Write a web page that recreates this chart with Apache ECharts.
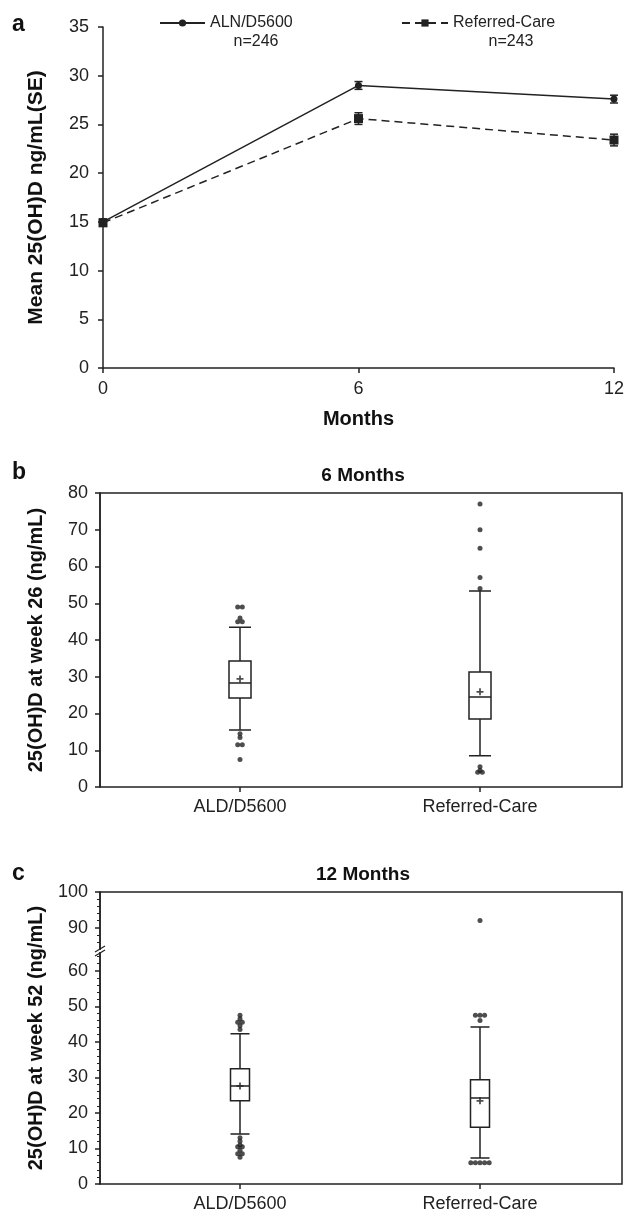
<!DOCTYPE html>
<html><head><meta charset="utf-8">
<script src="https://cdn.jsdelivr.net/npm/echarts@6/dist/echarts.min.js"></script>
<style>html,body{margin:0;padding:0;background:#fff}#c{width:627px;height:1219px}</style>
</head><body><div id="c"></div><script>
// ---- Panel a data ----
const months = [0, 6, 12];
const alnMean = [15.0, 29.0, 27.6];
const alnSE = [0.3, 0.4, 0.4];
const refMean = [14.9, 25.6, 23.4];
const refSE = [0.3, 0.6, 0.6];
const seriesNames = ['ALN/D5600', 'Referred-Care'];
const seriesN = ['n=246', 'n=243'];
// ---- Panels b, c data ----
const groups = ['ALD/D5600', 'Referred-Care'];
// [low whisker, Q1, median, Q3, high whisker]
const box26 = [[15.5, 24.2, 28.3, 34.3, 43.5], [8.5, 18.5, 24.5, 31.3, 53.3]];
const mean26 = [29.4, 25.9];
const out26 = [[49, 49, 46, 45, 45, 14.5, 13.5, 11.5, 11.5, 7.5], [77, 70, 65, 57, 54, 5.5, 4.5, 4, 4]];
const box52 = [[14.1, 23.4, 27.6, 32.4, 42.3], [7.3, 16, 24.2, 29.3, 44.2]];
const mean52 = [27.6, 23.4];
const out52 = [[47.5, 46.5, 45.5, 45.5, 44.5, 43.5, 13, 12, 11, 10.5, 10.5, 9.5, 8.5, 8.5, 7.5], [92, 47.5, 47.5, 47.5, 46, 6, 6, 6, 6, 6]];
const yTicksA = [0, 35, 5];
const yTicksB = [0, 80, 10];
// panel c: broken axis, lower segment and upper segment
const cLower = [0, 65];
const cUpper = [84, 100];
const cLowerTicks = [0, 10, 20, 30, 40, 50, 60];
const cUpperTicks = [90, 100];

const INK = '#222';
const FONT = '"Liberation Sans", Arial, sans-serif';

function minorBetween(lo, hi, step, major) {
  const r = [];
  for (let v = Math.ceil(lo / step) * step; v <= hi; v += step) if (major.indexOf(v) < 0 && v !== lo && v !== hi) r.push(v);
  return r;
}

function outlierData(out, keep) {
  const res = [];
  out.forEach((vals, ci) => {
    const counts = {};
    vals.forEach(v => counts[v] = (counts[v] || 0) + 1);
    const seen = {};
    vals.forEach(v => {
      const k = counts[v];
      const i = seen[v] = (seen[v] === undefined ? 0 : seen[v] + 1);
      if (!keep || keep(v)) res.push({ value: [ci, v], symbolOffset: [(i - (k - 1) / 2) * 4.6, 0] });
    });
  });
  return res;
}

const chart = echarts.init(document.getElementById('c'), null, { renderer: 'canvas' });

const axisLine = { show: true, lineStyle: { color: INK, width: 1.5 } };
const tickOut = { show: true, inside: false, length: 5, lineStyle: { color: INK, width: 1.5 } };
const lbl = { color: '#222', fontSize: 18, fontFamily: FONT };
const nameSt = { color: '#111', fontSize: 20, fontWeight: 'bold', fontFamily: FONT };
const titleSt = { fontSize: 19, fontWeight: 'bold', color: '#111', fontFamily: FONT };
const smallSt = { fontSize: 16, fontWeight: 'normal', color: '#222', fontFamily: FONT };
const hiddenAxis = { axisLine: { show: false }, axisTick: { show: false }, axisLabel: { show: false }, splitLine: { show: false } };

const plusPath = 'path://M3,0h2v3h3v2h-3v3h-2v-3h-3v-2h3z';

function errRender(params, api) {
  const x = api.value(0), m = api.value(1), s = api.value(2);
  const lo = api.coord([x, m - s]), hi = api.coord([x, m + s]);
  const w = 4;
  const st = { stroke: INK, lineWidth: 1.5 };
  return { type: 'group', children: [
    { type: 'line', shape: { x1: lo[0], y1: lo[1], x2: hi[0], y2: hi[1] }, style: st },
    { type: 'line', shape: { x1: lo[0] - w, y1: lo[1], x2: lo[0] + w, y2: lo[1] }, style: st },
    { type: 'line', shape: { x1: hi[0] - w, y1: hi[1], x2: hi[0] + w, y2: hi[1] }, style: st }
  ]};
}

function legendFor(i, left, w) {
  return {
    data: [seriesNames[i]], left: left, top: 10, itemWidth: w, itemHeight: 9,
    selectedMode: false,
    textStyle: { color: '#222', fontSize: 16, fontFamily: FONT }
  };
}

const boxStyle = { color: '#fff', borderColor: INK, borderWidth: 1.5 };

const option = {
  animation: false,
  backgroundColor: '#fff',
  textStyle: { fontFamily: FONT },
  title: [
    { text: '6 Months', left: 358, top: 461, textAlign: 'center', textStyle: titleSt },
    { text: '12 Months', left: 358, top: 860, textAlign: 'center', textStyle: titleSt },
    { text: seriesN[0], left: 251, top: 29, textAlign: 'center', textStyle: smallSt },
    { text: seriesN[1], left: 506, top: 29, textAlign: 'center', textStyle: smallSt }
  ],
  legend: [legendFor(0, 154, 45), legendFor(1, 396, 46)],
  grid: [
    { left: 103, top: 27, width: 511, height: 341 },                // 0 a
    { left: 120, top: 493, width: 480, height: 294 },               // 1 b
    { left: 120, top: 953, width: 480, height: 231 },               // 2 c lower
    { left: 100, top: 493, width: 522, height: 294, show: true, borderColor: INK, borderWidth: 1.5, backgroundColor: 'rgba(0,0,0,0)' }, // 3 b frame
    { left: 100, top: 892, width: 522, height: 292, show: true, borderColor: INK, borderWidth: 1.5, backgroundColor: 'rgba(0,0,0,0)' }, // 4 c frame
    { left: 120, top: 892, width: 480, height: 57 }                 // 5 c upper
  ],
  xAxis: [
    { type: 'value', gridIndex: 0, min: 0, max: 12, interval: 6, axisLine, axisTick: tickOut, axisLabel: { ...lbl, margin: 12 }, splitLine: { show: false },
      name: 'Months', nameLocation: 'middle', nameGap: 41, nameTextStyle: nameSt },
    { type: 'category', gridIndex: 1, data: groups, axisLine: { show: false }, axisTick: { ...tickOut, alignWithLabel: true }, axisLabel: { ...lbl, margin: 11 } },
    { type: 'category', gridIndex: 2, data: groups, axisLine: { show: false }, axisTick: { ...tickOut, alignWithLabel: true }, axisLabel: { ...lbl, margin: 11 } },
    { type: 'value', gridIndex: 3, show: false },
    { type: 'value', gridIndex: 4, show: false },
    { type: 'category', gridIndex: 5, data: groups, show: false }
  ],
  yAxis: [
    { type: 'value', gridIndex: 0, min: yTicksA[0], max: yTicksA[1], interval: yTicksA[2], axisLine, axisTick: tickOut, axisLabel: { ...lbl, margin: 14 }, splitLine: { show: false },
      name: 'Mean 25(OH)D ng/mL(SE)', nameLocation: 'middle', nameGap: 56, nameTextStyle: { ...nameSt, fontSize: 21 } },
    { type: 'value', gridIndex: 1, position: 'left', offset: 20, min: yTicksB[0], max: yTicksB[1], interval: yTicksB[2], axisLine, axisTick: tickOut, axisLabel: { ...lbl, margin: 12 }, splitLine: { show: false },
      name: '25(OH)D at week 26 (ng/mL)', nameLocation: 'middle', nameGap: 54, nameTextStyle: nameSt },
    { type: 'value', gridIndex: 2, position: 'left', offset: 20, min: cLower[0], max: cLower[1], axisLine,
      axisTick: { ...tickOut, customValues: cLowerTicks }, axisLabel: { ...lbl, margin: 12, customValues: cLowerTicks }, splitLine: { show: false } },
    { type: 'value', gridIndex: 3, show: false },
    { type: 'value', gridIndex: 4, position: 'left', min: 0, max: 1, ...hiddenAxis,
      name: '25(OH)D at week 52 (ng/mL)', nameLocation: 'middle', nameGap: 54, nameTextStyle: nameSt },
    { type: 'value', gridIndex: 5, position: 'left', offset: 20, min: cUpper[0], max: cUpper[1], axisLine,
      axisTick: { ...tickOut, customValues: cUpperTicks }, axisLabel: { ...lbl, margin: 12, customValues: cUpperTicks }, splitLine: { show: false } },
    { type: 'value', gridIndex: 2, position: 'left', offset: 20, min: cLower[0], max: cLower[1], axisLine: { show: false }, axisLabel: { show: false }, splitLine: { show: false },
      axisTick: { show: true, length: 3, lineStyle: { color: INK, width: 1 }, customValues: minorBetween(cLower[0], cLower[1], 2, cLowerTicks) } },
    { type: 'value', gridIndex: 5, position: 'left', offset: 20, min: cUpper[0], max: cUpper[1], axisLine: { show: false }, axisLabel: { show: false }, splitLine: { show: false },
      axisTick: { show: true, length: 3, lineStyle: { color: INK, width: 1 }, customValues: minorBetween(cUpper[0], cUpper[1], 2, cUpperTicks) } }
  ],
  series: [
    { name: seriesNames[0], type: 'line', xAxisIndex: 0, yAxisIndex: 0, data: months.map((m, i) => [m, alnMean[i]]),
      symbol: 'circle', symbolSize: 7, lineStyle: { color: INK, width: 1.5 }, itemStyle: { color: INK }, z: 3 },
    { name: seriesNames[1], type: 'line', xAxisIndex: 0, yAxisIndex: 0, data: months.map((m, i) => [m, refMean[i]]),
      symbol: 'rect', symbolSize: 9, lineStyle: { color: INK, width: 1.5, type: [8, 5] }, itemStyle: { color: INK }, z: 3 },
    { type: 'custom', xAxisIndex: 0, yAxisIndex: 0, renderItem: errRender, z: 4,
      data: months.map((m, i) => [m, alnMean[i], alnSE[i]]).concat(months.map((m, i) => [m, refMean[i], refSE[i]])) },
    { type: 'boxplot', xAxisIndex: 1, yAxisIndex: 1, data: box26, boxWidth: [22, 22], itemStyle: boxStyle },
    { type: 'scatter', xAxisIndex: 1, yAxisIndex: 1, data: outlierData(out26), symbol: 'circle', symbolSize: 5, itemStyle: { color: INK } },
    { type: 'scatter', xAxisIndex: 1, yAxisIndex: 1, data: mean26.map((v, i) => [i, v]), symbol: plusPath, symbolSize: 7, itemStyle: { color: INK }, z: 5 },
    { type: 'boxplot', xAxisIndex: 2, yAxisIndex: 2, data: box52, boxWidth: [19, 19], itemStyle: boxStyle },
    { type: 'scatter', xAxisIndex: 2, yAxisIndex: 2, data: outlierData(out52, v => v <= cLower[1]), symbol: 'circle', symbolSize: 5, itemStyle: { color: INK } },
    { type: 'scatter', xAxisIndex: 5, yAxisIndex: 5, data: outlierData(out52, v => v >= cUpper[0]), symbol: 'circle', symbolSize: 5, itemStyle: { color: INK } },
    { type: 'scatter', xAxisIndex: 2, yAxisIndex: 2, data: mean52.map((v, i) => [i, v]), symbol: plusPath, symbolSize: 7, itemStyle: { color: INK }, z: 5 }
  ]
};
chart.setOption(option);

// panel letters + axis break mark
const yHi = chart.convertToPixel({ yAxisIndex: 5 }, cUpper[0]);
const yLo = chart.convertToPixel({ yAxisIndex: 2 }, cLower[1]);
const axX = 100;
chart.setOption({
  graphic: [
    { type: 'text', left: 12, top: 13, z: 100, style: { text: 'a', font: 'bold 23px ' + FONT, fill: '#111' } },
    { type: 'text', left: 12, top: 461, z: 100, style: { text: 'b', font: 'bold 23px ' + FONT, fill: '#111' } },
    { type: 'text', left: 12, top: 862, z: 100, style: { text: 'c', font: 'bold 23px ' + FONT, fill: '#111' } },
    { type: 'rect', z: 100, shape: { x: axX - 3, y: yHi + 1, width: 6, height: Math.max(1, yLo - yHi - 2) }, style: { fill: '#fff' } },
    { type: 'line', z: 101, shape: { x1: axX - 5, y1: yHi + 3, x2: axX + 5, y2: yHi - 3 }, style: { stroke: INK, lineWidth: 1.2 } },
    { type: 'line', z: 101, shape: { x1: axX - 5, y1: yLo + 3, x2: axX + 5, y2: yLo - 3 }, style: { stroke: INK, lineWidth: 1.2 } }
  ]
});
</script></body></html>
